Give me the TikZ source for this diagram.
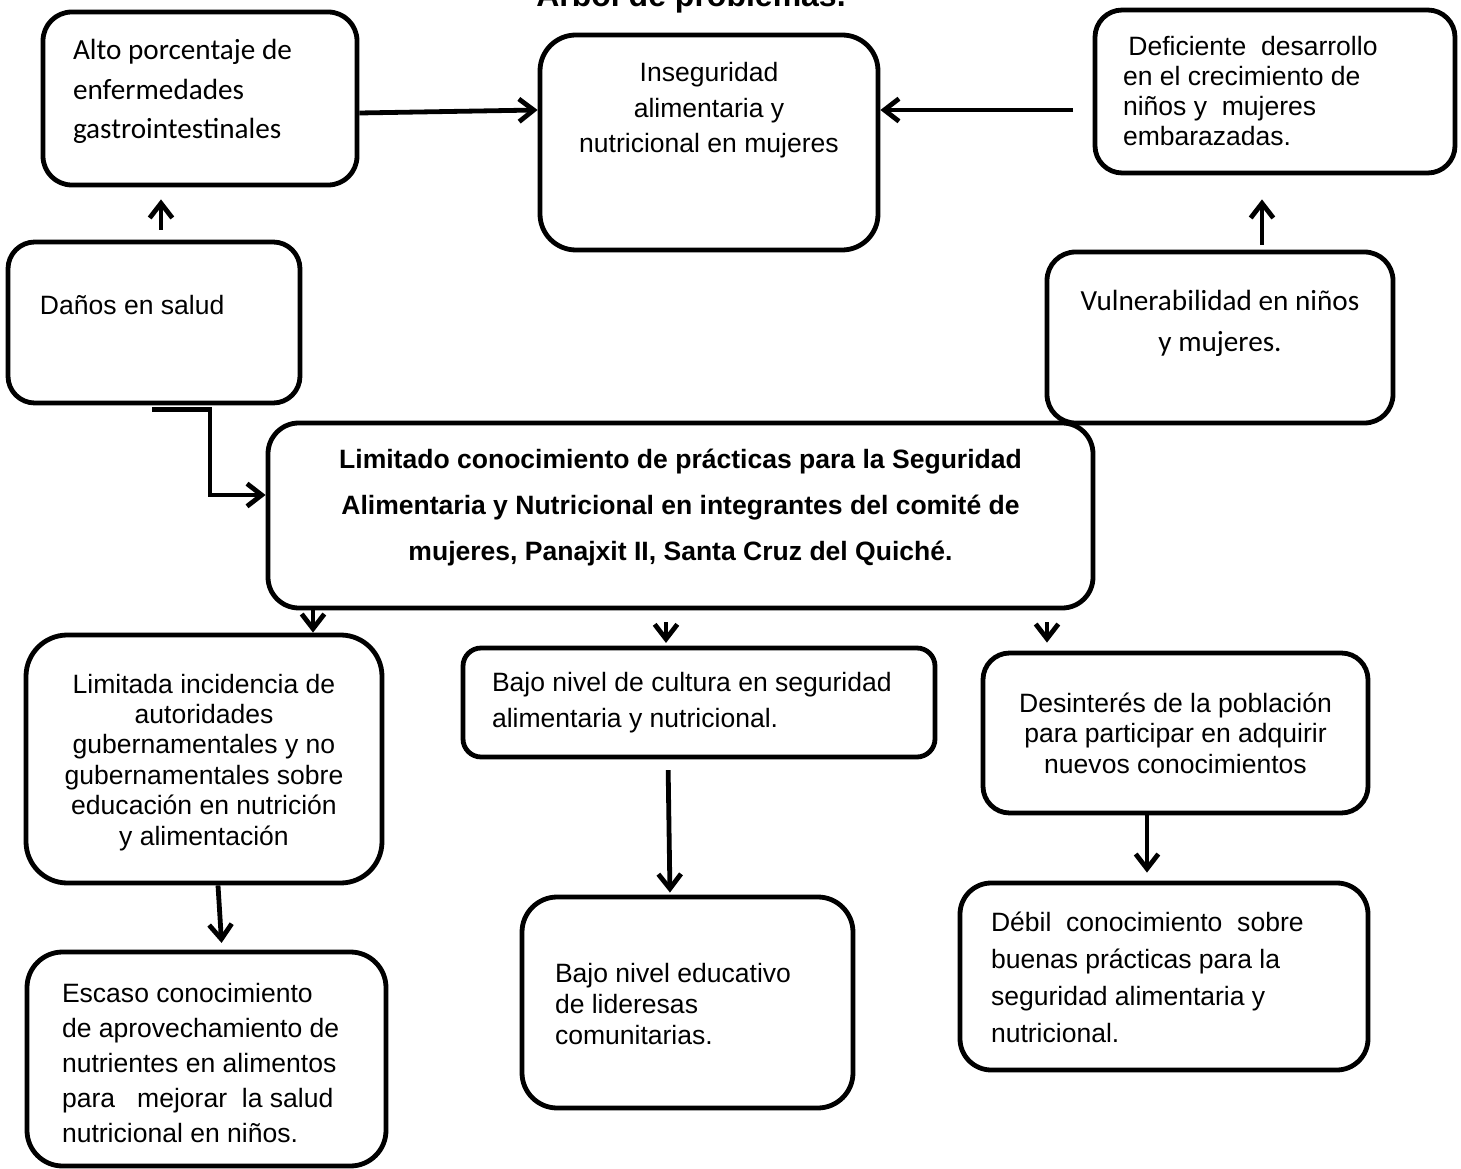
\documentclass[tikz,border=0pt]{standalone}
\usepackage{fontspec}
\setmainfont{Liberation Sans}
\newfontfamily\calibri{Carlito}
\usetikzlibrary{arrows.meta,backgrounds}
\newdimen\pxu \pxu=0.75pt
% width, height, first-baseline offset from top (px), settings, text
\newcommand\bxt[5]{\parbox[c][#2\pxu][t]{#1\pxu}{#4\vskip\dimexpr#3\pxu-0.7\baselineskip\relax\strut#5}}
\newcommand\arialf[1]{\fontsize{19.9}{#1}\selectfont}
\newcommand\calf[1]{\calibri\fontsize{21.9}{#1}\selectfont}
\newcommand\lft[1]{\raggedright\leftskip=#1\pxu\relax}
\tikzset{
  bx/.style={draw, fill=white, line width=3.6pt, inner sep=0pt, rounded corners=#1},
  conn/.style={line width=3.6pt, -{Straight Barb[length=11pt,width=17pt]}}
}
\begin{document}
\begin{tikzpicture}[x=0.75pt,y=-0.75pt]
\useasboundingbox[fill=white] (0,0) rectangle (1461,1169);

\node[anchor=base, font=\fontsize{24}{28}\selectfont\bfseries] (T) at (691,7) {Árbol de problemas.};

\node[bx=21.6pt] (A) at (200,98.5) {\bxt{314}{173}{48}{\calf{29.6}\lft{30}}{Alto porcentaje de\\enfermedades\\gastrointestinales}};
\node[bx=26.9pt] (I) at (709,142.5) {\bxt{338}{215}{47}{\arialf{26.6}\centering}{Inseguridad\\alimentaria y\\nutricional en mujeres}};
\node[bx=20.4pt] (D) at (1275,91.5) {\bxt{360}{163}{46}{\arialf{22.5}\lft{28}}{\hspace*{4pt}Deficiente\ \ desarrollo\\en el crecimiento de\\niños y\ \ mujeres\\embarazadas.}};
\node[bx=20.1pt] (S) at (154,322.5) {\bxt{292}{161}{73}{\arialf{24}\lft{32}}{Daños en salud}};
\node[bx=21.4pt] (V) at (1220,337.5) {\bxt{346}{171}{59}{\calf{30.75}\centering}{Vulnerabilidad en niños\\y mujeres.}};
\node[bx=23.1pt] (M) at (680.5,515.5) {\bxt{825}{185}{46}{\arialf{34.5}\bfseries\centering}{Limitado conocimiento de prácticas para la Seguridad\\Alimentaria y Nutricional en integrantes del comité de\\mujeres, Panajxit II, Santa Cruz del Quiché.}};
\node[bx=31pt] (L) at (204,759) {\bxt{356}{248}{58}{\arialf{22.8}\centering}{Limitada incidencia de\\autoridades\\gubernamentales y no\\gubernamentales sobre\\educación en nutrición\\y alimentación}};
\node[bx=13.6pt] (C) at (699,702.5) {\bxt{472}{109}{43}{\arialf{27}\lft{29}}{Bajo nivel de cultura en seguridad\\alimentaria y nutricional.}};
\node[bx=20pt] (E) at (1175.5,733) {\bxt{385}{160}{59}{\arialf{22.9}\centering}{Desinterés de la población\\para participar en adquirir\\nuevos conocimientos}};
\node[bx=26.7pt] (K) at (206.5,1059) {\bxt{359}{214}{50}{\arialf{26.4}\lft{35}}{Escaso conocimiento\\de aprovechamiento de\\nutrientes en alimentos\\para\ \ \ mejorar\ \ la salud\\nutricional en niños.}};
\node[bx=26.4pt] (B) at (687.5,1002.5) {\bxt{331}{211}{85}{\arialf{23.6}\lft{33}}{Bajo nivel educativo\\de lideresas\\comunitarias.}};
\node[bx=23.4pt] (W) at (1164,976.5) {\bxt{408}{187}{48}{\arialf{27.75}\lft{31}}{Débil\ \ conocimiento\ \ sobre\\buenas prácticas para la\\seguridad alimentaria y\\nutricional.}};

% connectors
\draw[conn] (A.east |- 0,113) -- (I.west |- 0,110);
\coordinate (dfree) at (1073,110);
\draw[conn] (dfree) -- (I.east |- dfree);
\draw[conn, shorten <=7.5pt, shorten >=9pt] (S.north -| 161,0) -- (A.south -| 161,0);
\draw[conn, shorten <=3.75pt, shorten >=18pt] (V.north -| 1262,0) -- (D.south -| 1262,0);
\draw[conn] (M.south -| 313,0) -- (L.north -| 313,0);
\draw[conn, shorten <=9pt, shorten >=2pt] (M.south -| 666,0) -- (C.north -| 666,0);
\draw[conn, shorten <=9pt, shorten >=6pt] (M.south -| 1047,0) -- (E.north -| 1047,0);
\draw[conn, shorten >=5pt] (L.south -| 218,0) -- (K.north -| 222,0);
\draw[conn, shorten <=8pt, shorten >=1.5pt] (C.south -| 668,0) -- (B.north -| 670,0);
\draw[conn, shorten >=6pt] (E.south -| 1147,0) -- (W.north -| 1147,0);
\draw[conn] (S.south -| 152,0) ++(0,4) -- ++(58,0) |- (M.west |- 0,495);
\begin{scope}[on background layer]
\draw[conn, shorten >=-10pt] (V.south -| 1125,0) |- (M.east |- 0,494);
\end{scope}
\end{tikzpicture}
\end{document}
